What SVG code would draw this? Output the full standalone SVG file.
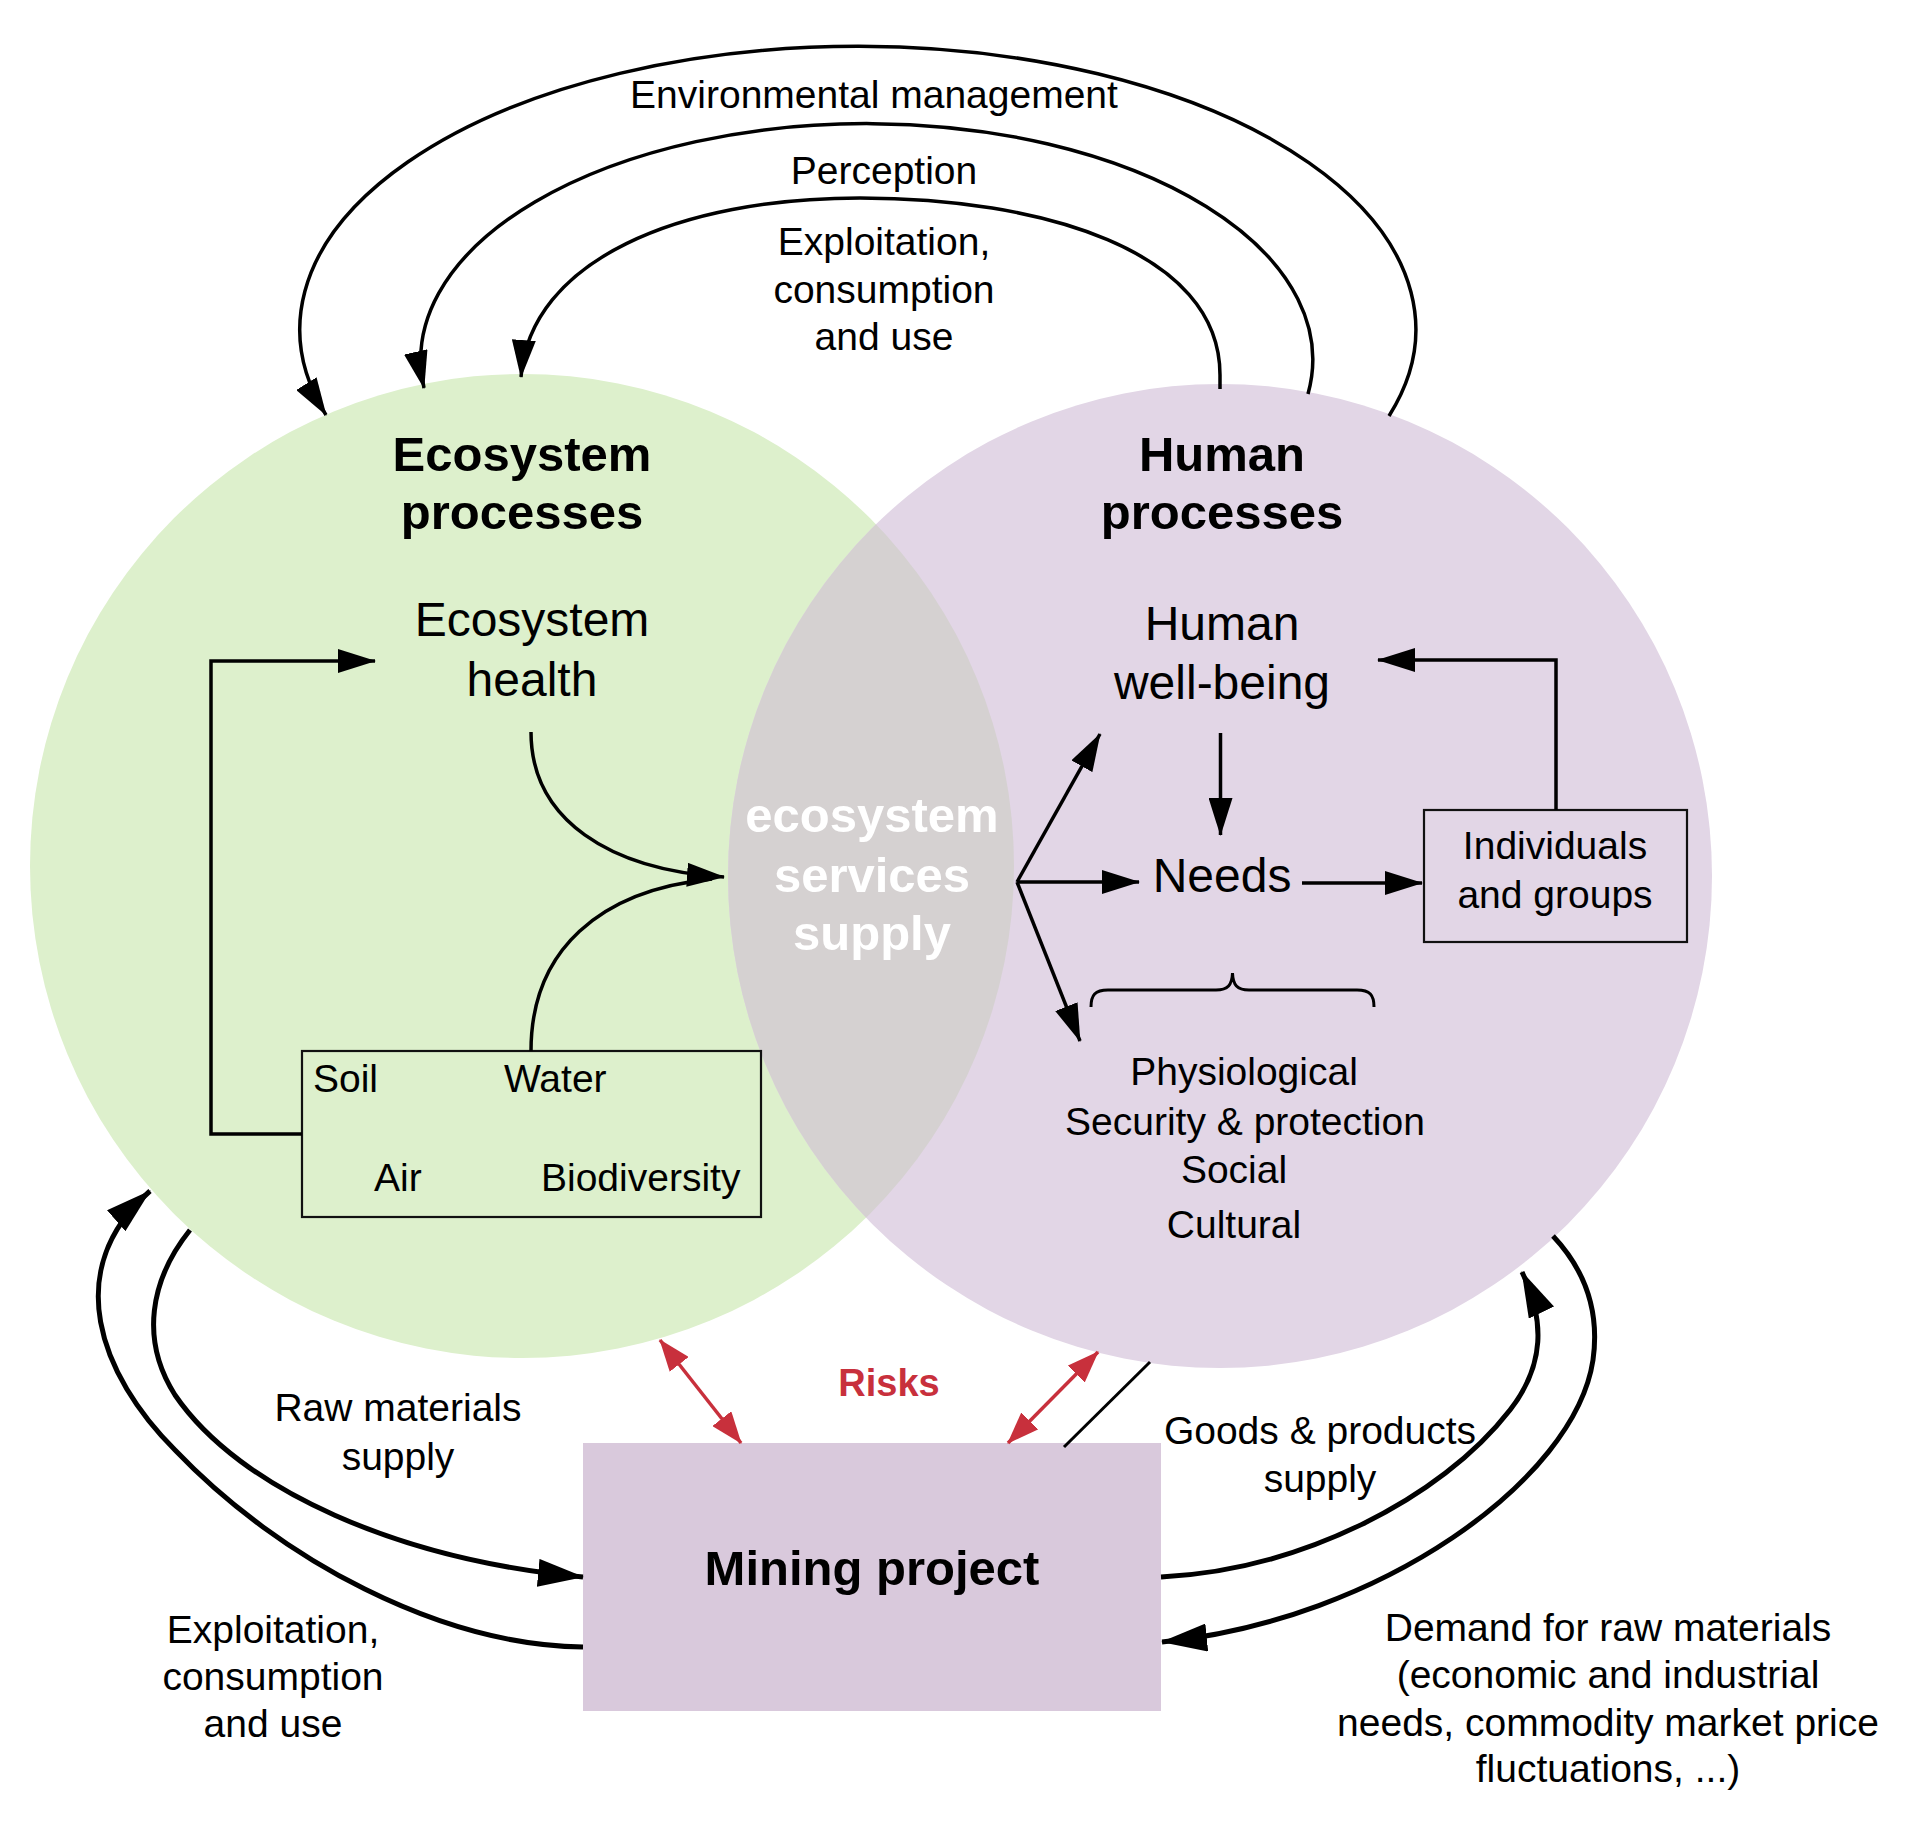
<svg xmlns="http://www.w3.org/2000/svg" width="1908" height="1834" viewBox="0 0 1908 1834">
<style>
text{font-family:"Liberation Sans",Arial,sans-serif;fill:#000}
.l{font-size:39px;text-anchor:middle}
.ls{font-size:39px}
.b{font-size:48px;text-anchor:middle}
.bb{font-size:49px;text-anchor:middle;font-weight:bold}
.w{fill:#fff}
.risk{font-size:38px;font-weight:bold;fill:#c8303c;text-anchor:middle}
.c{fill:none;stroke:#000;stroke-width:3.5}
.cb{fill:none;stroke:#000;stroke-width:5}
.red{fill:none;stroke:#c8303c;stroke-width:3.5}
.box{fill:none;stroke:#111;stroke-width:2.2}
</style>
<defs>
<marker id="ah" markerUnits="userSpaceOnUse" viewBox="0 0 38 24" markerWidth="38" markerHeight="24" refX="37" refY="12" orient="auto"><path d="M0,0 L38,12 L0,24 z" fill="#000"/></marker>
<marker id="ahb" markerUnits="userSpaceOnUse" viewBox="0 0 46 28" markerWidth="46" markerHeight="28" refX="45" refY="14" orient="auto"><path d="M0,0 L46,14 L0,28 z" fill="#000"/></marker>
<marker id="ahr" markerUnits="userSpaceOnUse" viewBox="0 0 32 24" markerWidth="32" markerHeight="24" refX="31" refY="12" orient="auto-start-reverse"><path d="M0,0 L32,12 L0,24 z" fill="#c8303c"/></marker>
<clipPath id="gclip"><circle cx="522" cy="866" r="492"/></clipPath>
</defs>
<rect width="1908" height="1834" fill="#fff"/>

<g id="ecosystem-processes">
<circle cx="522" cy="866" r="492" fill="#ddf0cc"/>
</g>
<g id="human-processes">
<circle cx="1220" cy="876" r="492" fill="#e2d6e6"/>
</g>
<g id="ecosystem-services-supply">
<circle cx="1220" cy="876" r="492" fill="#d5d1d1" clip-path="url(#gclip)"/>
<text class="bb w" x="872" y="832">ecosystem</text>
<text class="bb w" x="872" y="892">services</text>
<text class="bb w" x="872" y="950">supply</text>
</g>
<g id="ecosystem-title">
<text class="bb" x="522" y="471">Ecosystem</text>
<text class="bb" x="522" y="529">processes</text>
</g>
<g id="human-title">
<text class="bb" x="1222" y="471">Human</text>
<text class="bb" x="1222" y="529">processes</text>
</g>
<g id="ecosystem-health">
<text class="b" x="532" y="636">Ecosystem</text>
<text class="b" x="532" y="696">health</text>
</g>
<g id="environment-components">
<rect class="box" x="302" y="1051" width="459" height="166"/>
<text class="ls" x="313" y="1092">Soil</text>
<text class="ls" x="504" y="1092">Water</text>
<text class="ls" x="374" y="1191">Air</text>
<text class="ls" x="541" y="1191">Biodiversity</text>
</g>
<g id="human-well-being">
<text class="b" x="1222" y="640">Human</text>
<text class="b" x="1222" y="699">well-being</text>
</g>
<g id="needs">
<text class="b" x="1222" y="892">Needs</text>
</g>
<g id="individuals-groups">
<rect class="box" x="1424" y="810" width="263" height="132"/>
<text class="l" x="1555" y="859">Individuals</text>
<text class="l" x="1555" y="908">and groups</text>
</g>
<g id="needs-list">
<path class="c" d="M1091,1007 C1091,995 1095,990 1108,990 L1216,990 C1228,990 1232,985 1232.5,973 C1233,985 1237,990 1249,990 L1357,990 C1370,990 1374,995 1374,1007" style="stroke-width:3"/>
<text class="l" x="1244" y="1085">Physiological</text>
<text class="l" x="1245" y="1135">Security &amp; protection</text>
<text class="l" x="1234" y="1183">Social</text>
<text class="l" x="1234" y="1238">Cultural</text>
</g>
<g id="mining-project">
<rect x="583" y="1443" width="578" height="268" fill="#d9c9dc"/>
<text class="bb" x="872" y="1585">Mining project</text>
</g>

<g id="connectors">
<path class="c" d="M1389,416 A558,283 0 1 0 326,415" marker-end="url(#ah)"/>
<path class="c" d="M1308,394 A446,236 0 1 0 424,388" marker-end="url(#ah)"/>
<path class="c" d="M1220,389 L1220,375 C1220,250 1040,198 860,198 C680,198 530,260 521,377" marker-end="url(#ah)"/>
<path class="c" d="M531,732 C531,820 610,870 724,877" marker-end="url(#ah)"/>
<path class="c" d="M531,1051 C531,950 600,890 712,879"/>
<path class="c" d="M302,1134 L211,1134 L211,661 L375,661" marker-end="url(#ah)"/>
<path class="c" d="M1017,882 L1100,734" marker-end="url(#ah)"/>
<path class="c" d="M1017,882 L1139,882" marker-end="url(#ah)"/>
<path class="c" d="M1017,882 L1080,1041" marker-end="url(#ah)"/>
<path class="c" d="M1220.5,733 L1220.5,835" marker-end="url(#ah)"/>
<path class="c" d="M1302,883 L1422,883" marker-end="url(#ah)"/>
<path class="c" d="M1556,810 L1556,660 L1378,660" marker-end="url(#ah)"/>
<path class="cb" d="M190,1230 C150,1280 140,1340 175,1395 C240,1490 400,1560 583,1577" marker-end="url(#ahb)"/>
<path class="cb" d="M583,1647 C440,1645 280,1560 175,1450 C100,1375 60,1270 150,1191" marker-end="url(#ahb)"/>
<path class="cb" d="M1161,1577 C1300,1570 1440,1500 1510,1410 C1545,1365 1545,1320 1522,1272" marker-end="url(#ahb)"/>
<path class="cb" d="M1553,1236 C1585,1270 1600,1310 1593,1360 C1575,1480 1380,1620 1162,1642" marker-end="url(#ahb)"/>
<path class="red" d="M660,1340 L741,1443" marker-start="url(#ahr)" marker-end="url(#ahr)"/>
<path class="red" d="M1098,1352 L1008,1443" marker-start="url(#ahr)" marker-end="url(#ahr)"/>
<path d="M1150,1362 L1064,1447" fill="none" stroke="#000" stroke-width="3"/>
</g>

<g id="labels">
<text class="l" x="874" y="108">Environmental management</text>
<text class="l" x="884" y="184">Perception</text>
<text class="l" x="884" y="255">Exploitation,</text>
<text class="l" x="884" y="303">consumption</text>
<text class="l" x="884" y="350">and use</text>
<text class="l" x="398" y="1421">Raw materials</text>
<text class="l" x="398" y="1470">supply</text>
<text class="l" x="273" y="1643">Exploitation,</text>
<text class="l" x="273" y="1690">consumption</text>
<text class="l" x="273" y="1737">and use</text>
<text class="risk" x="889" y="1396">Risks</text>
<text class="l" x="1320" y="1444">Goods &amp; products</text>
<text class="l" x="1320" y="1492">supply</text>
<text class="l" x="1608" y="1641">Demand for raw materials</text>
<text class="l" x="1608" y="1688">(economic and industrial</text>
<text class="l" x="1608" y="1736">needs, commodity market price</text>
<text class="l" x="1608" y="1782">fluctuations, ...)</text>
</g>
</svg>
